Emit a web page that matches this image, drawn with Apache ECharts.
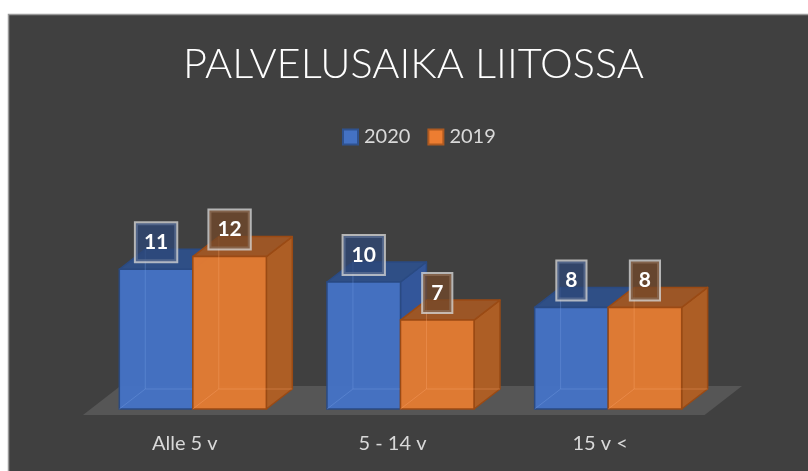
<!DOCTYPE html>
<html>
<head>
<meta charset="utf-8">
<script src="https://cdn.jsdelivr.net/npm/echarts@6/dist/echarts.min.js"></script>
<style>
  html, body { margin: 0; padding: 0; background: #ffffff; }
  #chart { width: 808px; height: 471px; }
</style>
</head>
<body>
<div id="chart"></div>
<script>
const titleText = 'PALVELUSAIKA LIITOSSA';
const categories = ['Alle 5 v', '5 - 14 v', '15 v <'];
const seriesNames = ['2020', '2019'];
const values2020 = [11, 10, 8];
const values2019 = [12, 7, 8];

const palette = [
  { front: 'rgba(68,114,196,0.97)', top: '#2f4f86', side: '#33569a', edge: '#2a4a82', label: 'rgba(45,70,120,0.72)', inner: 'rgba(120,160,230,0.35)' },
  { front: 'rgba(224,122,50,0.98)', top: '#9c5626', side: '#ad5e25', edge: '#9a4a14', label: 'rgba(115,72,42,0.75)', inner: 'rgba(255,170,110,0.35)' }
];

function renderFloor(params, api) {
  const cs = params.coordSys;
  const base = api.coord([0, 0]);
  const y0 = base[1];
  const band = api.size([1, 0])[0];
  const dx = band * 0.18;
  return {
    type: 'polygon',
    shape: { points: [
      [cs.x - 6, y0 + 6],
      [cs.x - 6 + dx, y0 - 23],
      [cs.x + cs.width + 30, y0 - 23],
      [cs.x + cs.width + 30 - dx, y0 + 6]
    ] },
    style: { fill: '#565656' },
    silent: true
  };
}

function renderBar(params, api) {
  const si = params.seriesIndex - 1;
  const p = palette[si];
  const cat = api.value(0);
  const v = api.value(1);
  const base = api.coord([cat, 0]);
  const top = api.coord([cat, v]);
  const band = api.size([1, 0])[0];
  const bw = band * 0.354;
  const x0 = si === 0 ? base[0] - bw : base[0];
  const x1 = x0 + bw;
  const yb = base[1];
  const yt = top[1];
  const dx = band * 0.125;
  const dy = -dx * 0.77;
  const children = [
    { type: 'polygon', shape: { points: [[x1, yt], [x1 + dx, yt + dy], [x1 + dx, yb + dy], [x1, yb]] },
      style: { fill: p.side, stroke: p.edge, lineWidth: 1.5, lineJoin: 'round' } },
    { type: 'polygon', shape: { points: [[x0, yt], [x0 + dx, yt + dy], [x1 + dx, yt + dy], [x1, yt]] },
      style: { fill: p.top, stroke: p.edge, lineWidth: 1.5, lineJoin: 'round' } },
    { type: 'rect', shape: { x: x0, y: yt, width: bw, height: yb - yt },
      style: { fill: p.front, stroke: p.edge, lineWidth: 1.5 } },
    { type: 'polyline', shape: { points: [[x0 + dx, yt + dy], [x0 + dx, yb + dy], [x1 + dx, yb + dy]] },
      style: { fill: null, stroke: p.inner, lineWidth: 1 } },
    { type: 'line', shape: { x1: x0, y1: yb, x2: x0 + dx, y2: yb + dy },
      style: { stroke: p.inner, lineWidth: 1 } },
    { type: 'text', z2: 100,
      style: {
        text: String(v), x: (x0 + x1) / 2, y: yt - 27, align: 'center', verticalAlign: 'middle',
        fill: '#ffffff', font: 'bold 21px Lato, "Open Sans", sans-serif', lineHeight: 22,
        backgroundColor: p.label, borderColor: 'rgba(210,210,210,0.8)', borderWidth: 2,
        padding: [8, 8, 8, 8]
      } }
  ];
  return { type: 'group', children: children };
}

const chart = echarts.init(document.getElementById('chart'), null, { renderer: 'canvas' });
chart.setOption({
  backgroundColor: '#ffffff',
  animation: false,
  graphic: [{
    type: 'rect', z: -10, silent: true,
    shape: { x: 8.5, y: 14.5, width: 805, height: 462 },
    style: { fill: '#404040', stroke: '#9a9a9a', lineWidth: 1.5 }
  }],
  title: {
    text: titleText, left: 178, top: 39,
    textStyle: { color: '#ffffff', fontSize: 41.5, fontWeight: 300, fontFamily: 'Lato, "Open Sans", sans-serif' }
  },
  legend: {
    data: seriesNames, left: 342, top: 127, itemWidth: 15, itemHeight: 15, itemGap: 17, padding: 0,
    icon: 'rect',
    textStyle: { color: '#d9d9d9', fontSize: 20, fontFamily: 'Lato, "Open Sans", sans-serif', padding: [0, 0, 0, 1] }
  },
  grid: { left: 89, right: 96, top: 231.2, bottom: 62, containLabel: false },
  xAxis: {
    type: 'category', data: categories,
    axisLine: { show: false }, axisTick: { show: false }, splitLine: { show: false },
    axisLabel: { color: '#d9d9d9', fontSize: 20, margin: 25, fontFamily: 'Lato, "Open Sans", sans-serif', padding: [0, 16, 0, 0] }
  },
  yAxis: { type: 'value', min: 0, max: 14, show: false, splitLine: { show: false } },
  series: [
    { type: 'custom', name: 'floor', renderItem: renderFloor, data: [[0]], silent: true, z: 1 },
    { type: 'custom', name: seriesNames[0], renderItem: renderBar, data: values2020.map((v, i) => [i, v]), z: 2,
      itemStyle: { color: '#4472c4', borderColor: '#2f528f', borderWidth: 1.5 } },
    { type: 'custom', name: seriesNames[1], renderItem: renderBar, data: values2019.map((v, i) => [i, v]), z: 2,
      itemStyle: { color: '#ed7d31', borderColor: '#ae5a21', borderWidth: 1.5 } }
  ]
});
</script>
</body>
</html>
